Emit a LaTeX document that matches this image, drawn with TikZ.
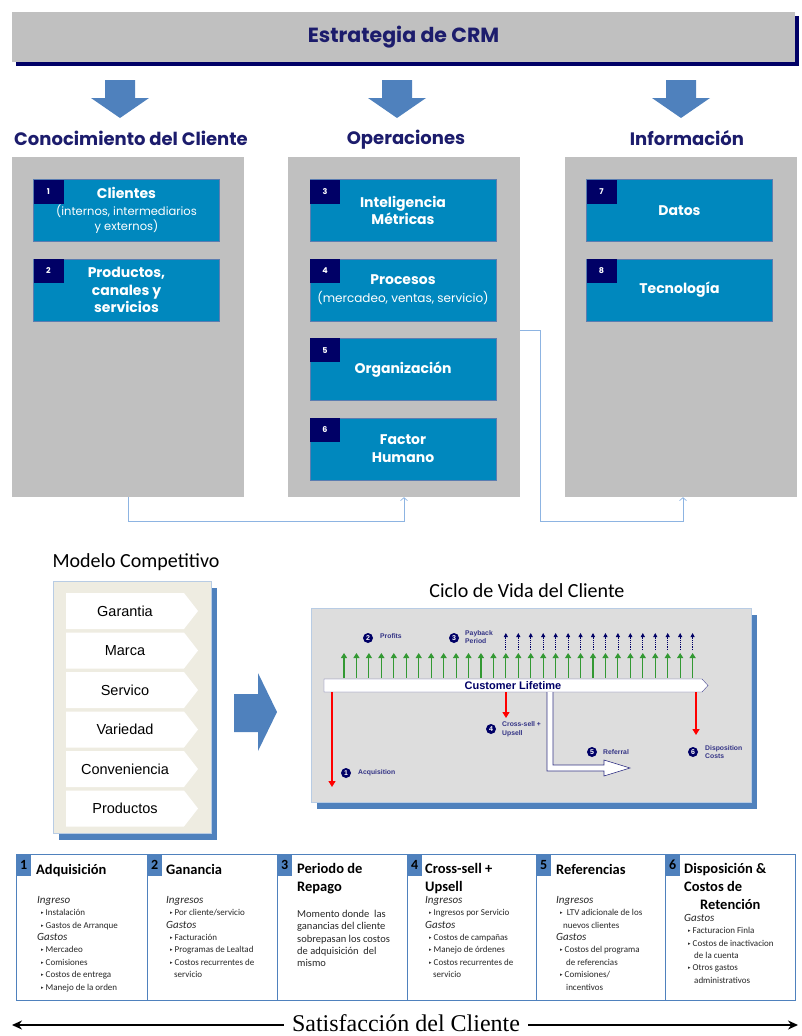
\documentclass[tikz,border=0pt]{standalone}
\usepackage{fontspec}
\setmainfont{Carlito}
\newfontfamily\gothic{Poppins}
\newfontfamily\arialfont{Liberation Sans}
\newfontfamily\timesfont{Liberation Serif}
\newfontfamily\symfont{DejaVu Sans}
\usetikzlibrary{positioning,shapes.symbols,shadows,arrows.meta}

\definecolor{crmgray}{HTML}{C0C0C0}
\definecolor{crmnavy}{HTML}{000066}
\definecolor{titlenavy}{HTML}{1C1C6C}
\definecolor{arrowblue}{HTML}{4F81BD}
\definecolor{boxblue}{HTML}{0088BE}
\definecolor{tileedge}{HTML}{5B7DB1}
\definecolor{linkblue}{HTML}{8DB4E2}
\definecolor{beige}{HTML}{EEECE1}
\definecolor{panelgray}{HTML}{DDDDDD}
\definecolor{borderblue}{HTML}{B8CCE4}
\definecolor{profitgreen}{HTML}{339933}

\newcommand{\celhead}[1]{{\fontsize{11}{12}\selectfont\itshape #1}}
\newcommand{\celitem}[1]{\hspace*{4pt}{\symfont\fontsize{5}{5}\selectfont\raisebox{1pt}{▸}}\hspace{2pt}#1}

\begin{document}
\begin{tikzpicture}[x=1pt,y=-1pt,
    banner/.style={fill=crmgray, minimum width=783pt, minimum height=50pt, inner sep=0pt,
      drop shadow={shadow xshift=4pt, shadow yshift=-4pt, fill=crmnavy, opacity=1},
      text=titlenavy, font=\gothic\bfseries\fontsize{20.5}{21}\selectfont},
    heading/.style={text=titlenavy, font=\gothic\bfseries\fontsize{18}{19}\selectfont},
    pillar/.style={fill=crmgray, minimum width=232pt, minimum height=340pt, inner sep=0pt},
    tile/.style={fill=boxblue, draw=tileedge, minimum width=186pt, minimum height=62pt, inner sep=0pt,
      text=white, align=center, font=\gothic\bfseries\fontsize{14}{17.5}\selectfont},
    tag/.style={fill=crmnavy, minimum width=30pt, minimum height=24pt, anchor=north west, inner sep=0pt,
      text=white, font=\gothic\bfseries\fontsize{8}{8}\selectfont},
    link/.style={draw=linkblue, line width=0.7pt, -{Straight Barb[length=3pt,width=7pt]}},
    caption/.style={font=\fontsize{20}{20}\selectfont},
    modelbox/.style={fill=beige, draw=borderblue, minimum width=158pt, minimum height=252pt, inner sep=0pt,
      drop shadow={shadow xshift=6pt, shadow yshift=-7pt, fill=arrowblue, opacity=1}},
    chevron/.style={signal, signal to=east, signal pointer angle=104, fill=white, minimum width=132pt,
      minimum height=36pt, inner sep=0pt, font=\arialfont\fontsize{14.5}{15}\selectfont},
    lifepanel/.style={fill=panelgray, draw=borderblue, line width=1pt, minimum width=440pt, minimum height=194pt,
      inner sep=0pt, drop shadow={shadow xshift=6pt, shadow yshift=-7pt, fill=arrowblue, opacity=1}},
    lifebar/.style={signal, signal to=east, signal pointer angle=95, fill=white, draw=crmnavy!70, minimum width=384pt,
      minimum height=13pt, inner sep=0pt, text=crmnavy, font=\arialfont\bfseries\fontsize{11}{11}\selectfont},
    numdot/.style={circle, fill=crmnavy, text=white, inner sep=0pt, minimum size=10pt,
      font=\arialfont\bfseries\fontsize{7}{7}\selectfont},
    lifelabel/.style={anchor=west, align=left, inner sep=0pt, text=crmnavy!80,
      font=\arialfont\bfseries\fontsize{6.8}{8.5}\selectfont},
    profit/.style={profitgreen, line width=1.1pt, -{Triangle[length=5pt,width=6pt]}},
    payback/.style={crmnavy, densely dotted, line width=0.8pt, -{Triangle[length=4pt,width=4pt]}},
    cost/.style={red, line width=1.4pt, -{Triangle[length=6pt,width=7pt]}},
    cell/.style={draw=arrowblue, line width=1.2pt, minimum height=146pt, inner sep=0pt, anchor=north west},
    tab/.style={fill=arrowblue, minimum width=15pt, minimum height=22pt, inner sep=0pt, anchor=north west,
      font=\bfseries\fontsize{14}{14}\selectfont},
    celltitle/.style={anchor=north west, align=left, inner sep=0pt, font=\bfseries\fontsize{14.5}{18}\selectfont},
    cellbody/.style={anchor=north west, align=left, inner sep=0pt, text=black!85, font=\fontsize{9}{12.4}\selectfont},
    satarrow/.style={line width=2.5pt, -{Stealth[length=10pt,width=9pt]}}]
  \useasboundingbox (0,0) rectangle (802,1036);

  % strategy
  \node[banner] (crm) at (403.5,37) {Estrategia de CRM};
  \foreach \x in {120,397,681}
    \fill[arrowblue] (\x-15,80) -- (\x+15,80) -- (\x+15,98) -- (\x+29,98) -- (\x,118)
      -- (\x-29,98) -- (\x-15,98) -- cycle;
  \node[heading] (head1) at (131,138) {Conocimiento del Cliente};
  \node[heading] (head2) at (406,140) {Operaciones};
  \node[heading] (head3) at (687,138) {Información};

  \node[pillar] (know) at (128,327) {};
  \node[pillar] (oper) at (404,327) {};
  \node[pillar] (info) at (681,327) {};

  \node[tile] (clients) at (126.5,210.5) {Clientes\\[-1pt] {\mdseries\fontsize{11.5}{14}\selectfont(internos, intermediarios}\\[-2pt] {\mdseries\fontsize{11.5}{14}\selectfont y externos)}};
  \node[tile, below=17pt of clients] (products) {Productos,\\canales y\\servicios};
  \node[tile] (intel) at (403,210.5) {Inteligencia\\Métricas};
  \node[tile, below=17pt of intel] (process) {Procesos\\ {\mdseries\fontsize{12}{14}\selectfont(mercadeo, ventas, servicio)}};
  \node[tile, below=17pt of process] (org) {Organización};
  \node[tile, below=17pt of org] (human) {Factor\\Humano};
  \node[tile] (data) at (679.5,210.5) {Datos};
  \node[tile, below=17pt of data] (tech) {Tecnología};

  \node[tag] (tag1) at (clients.north west) {1};
  \node[tag] (tag2) at (products.north west) {2};
  \node[tag] (tag3) at (intel.north west) {3};
  \node[tag] (tag4) at (process.north west) {4};
  \node[tag] (tag5) at (org.north west) {5};
  \node[tag] (tag6) at (human.north west) {6};
  \node[tag] (tag7) at (data.north west) {7};
  \node[tag] (tag8) at (tech.north west) {8};

  \draw[link] (know.south) -- ++(0,24) -| (oper.south);
  \draw[link] ([yshift=-3pt]oper.east) -| ++(20,191) -| ([xshift=2pt]info.south);

  % competitive model
  \node[caption] (modeltitle) at (136,562) {Modelo Competitivo};
  \node[modelbox] (model) at (132,707) {};
  \foreach \t [count=\i from 0] in {Garantia,Marca,Servico,Variedad,Conveniencia,Productos}
    \node[chevron] (item\i) at (125,611+39.5*\i) {\t};
  \fill[arrowblue] (234,694) -- (258,694) -- (258,673) -- (277,712) -- (258,751) -- (258,732)
    -- (234,732) -- cycle;

  % customer lifecycle
  \node[caption] (lifetitle) at (527,591) {Ciclo de Vida del Cliente};
  \node[lifepanel] (life) at (531,705) {};
  \node[lifebar] (lifetime) at (513,685.5) {Customer Lifetime};
  \foreach \i in {0,...,28}
    \draw[profit] (344+12.45*\i,678) -- ++(0,-25);
  \foreach \i in {13,...,28}
    \draw[payback] (344+12.45*\i,650) -- ++(0,-17);

  \coordinate (acqend) at (332,787);
  \coordinate (crossend) at (506,718);
  \coordinate (dispend) at (696,735);
  \draw[cost] (lifetime.south -| acqend) -- (acqend);
  \draw[cost] (lifetime.south -| crossend) -- (crossend);
  \draw[cost] (lifetime.south -| dispend) -- (dispend);
  \draw[crmnavy!80, fill=white, line width=0.6pt] (547,692) -- (547,771) -- (604,771) -- (604,776)
    -- (630,768) -- (604,760) -- (604,765) -- (553,765) -- (553,692);

  \node[numdot] (dot2) at (368,638) {2};
  \node[lifelabel] (profits) at (380,636) {Profits};
  \node[numdot] (dot3) at (454,638) {3};
  \node[lifelabel] (payback) at (465,637) {Payback\\Period};
  \node[numdot] (dot1) at (346,773) {1};
  \node[lifelabel] (acq) at (358,773) {Acquisition};
  \node[numdot] (dot4) at (491,729) {4};
  \node[lifelabel] (cross) at (502,729) {Cross-sell +\\Upsell};
  \node[numdot] (dot5) at (592,752) {5};
  \node[lifelabel] (referral) at (603,752) {Referral};
  \node[numdot] (dot6) at (693,752) {6};
  \node[lifelabel] (disp) at (705,752) {Disposition\\Costs};

  % cost table
  \foreach \n/\x/\w in {1/16/131,2/147/130,3/277/130,4/407/129,5/536/129,6/665/130} {
    \node[cell, minimum width=\w pt] (cell\n) at (\x,854) {};
    \node[tab] (tab\n) at (cell\n.north west) {\n};
  }
  \node[celltitle] (title1) at (36,864) {Adquisición};
  \node[celltitle] (title2) at (166,864) {Ganancia};
  \node[celltitle] (title3) at (297,863) {Periodo de\\Repago};
  \node[celltitle] (title4) at (425,863) {Cross-sell +\\Upsell};
  \node[celltitle] (title5) at (556,864) {Referencias};
  \node[celltitle] (title6) at (684,863) {Disposición \&\\Costos de\\\hspace*{16pt}Retención};

  \node[cellbody] (body1) at (37,896) {\celhead{Ingreso}\\ \celitem{Instalación}\\ \celitem{Gastos de Arranque}\\
    \celhead{Gastos}\\ \celitem{Mercadeo}\\ \celitem{Comisiones}\\ \celitem{Costos de entrega}\\
    \celitem{Manejo de la orden}};
  \node[cellbody] (body2) at (166,896) {\celhead{Ingresos}\\ \celitem{Por cliente/servicio}\\ \celhead{Gastos}\\
    \celitem{Facturación}\\ \celitem{Programas de Lealtad}\\ \celitem{Costos recurrentes de}\\
    \hspace*{8pt}servicio};
  \node[cellbody, font=\fontsize{10.5}{12.3}\selectfont] (body3) at (297,910) {Momento donde\ \ las\\
    ganancias del cliente\\ sobrepasan los costos\\ de adquisición\ \ del\\ mismo};
  \node[cellbody] (body4) at (425,896) {\celhead{Ingresos}\\ \celitem{Ingresos por Servicio}\\ \celhead{Gastos}\\
    \celitem{Costos de campañas}\\ \celitem{Manejo de órdenes}\\ \celitem{Costos recurrentes de}\\
    \hspace*{8pt}servicio};
  \node[cellbody] (body5) at (556,896) {\celhead{Ingresos}\\ \celitem{ LTV adicionale de los}\\
    \hspace*{7pt}nuevos clientes\\ \celhead{Gastos}\\ \celitem{Costos del programa}\\
    \hspace*{10pt}de referencias\\ \celitem{Comisiones/}\\ \hspace*{10pt}incentivos};
  \node[cellbody] (body6) at (684,914) {\celhead{Gastos}\\ \celitem{Facturacion Finla}\\
    \celitem{Costos de inactivacion}\\ \hspace*{10pt}de la cuenta\\ \celitem{Otros gastos}\\
    \hspace*{10pt}administrativos};

  % satisfaction
  \node[inner xsep=8pt, font=\timesfont\fontsize{24}{24}\selectfont] (satis) at (406,1023) {Satisfacción del Cliente};
  \coordinate (satleft) at (12,1025);
  \coordinate (satright) at (798,1025);
  \draw[satarrow] (satis.west |- satleft) -- (satleft);
  \draw[satarrow] (satis.east |- satright) -- (satright);
\end{tikzpicture}
\end{document}
